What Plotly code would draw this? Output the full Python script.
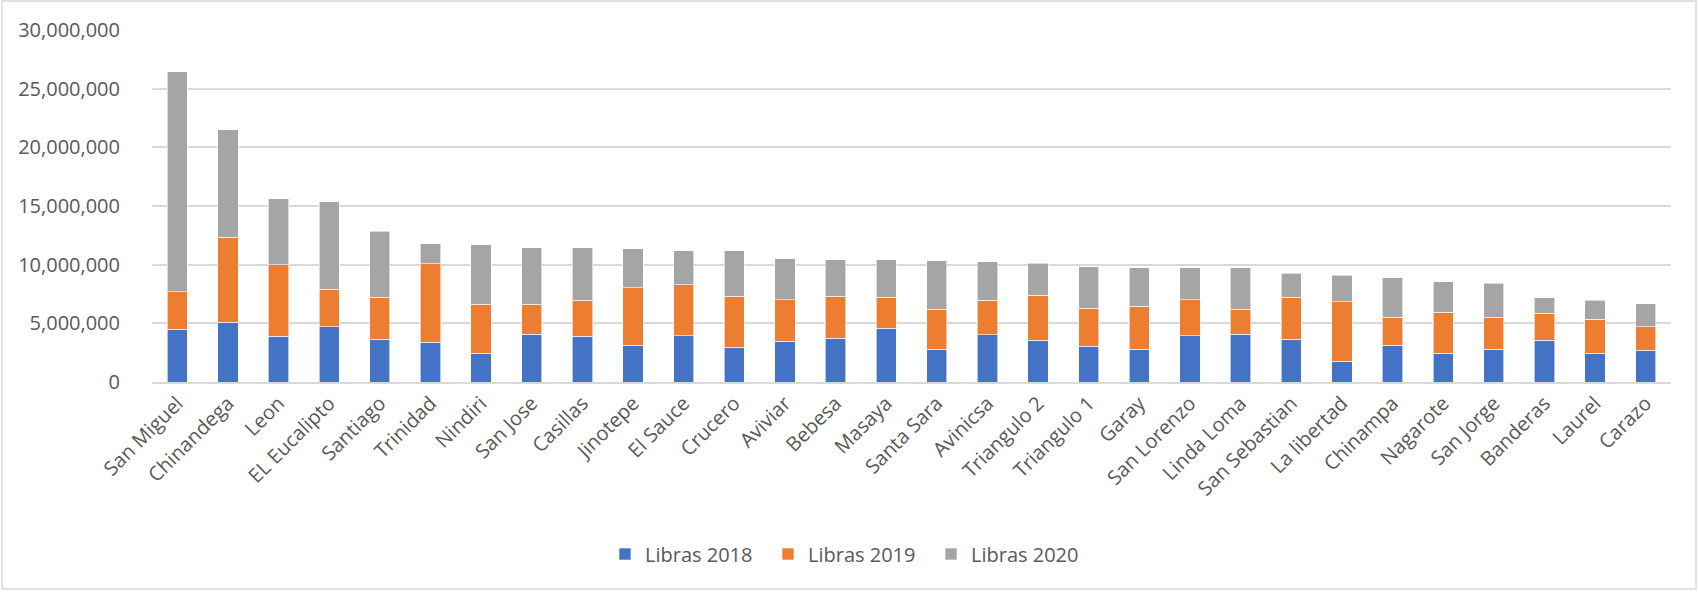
import plotly.graph_objects as go

categories = ["San Miguel", "Chinandega", "Leon", "EL Eucalipto", "Santiago", "Trinidad",
              "Nindiri", "San Jose", "Casillas", "Jinotepe", "El Sauce", "Crucero", "Aviviar",
              "Bebesa", "Masaya", "Santa Sara", "Avinicsa", "Triangulo 2", "Triangulo 1",
              "Garay", "San Lorenzo", "Linda Loma", "San Sebastian", "La libertad", "Chinampa",
              "Nagarote", "San Jorge", "Banderas", "Laurel", "Carazo"]

libras_2018 = [4480000, 5100000, 3880000, 4700000, 3630000, 3400000, 2440000, 4060000, 3890000,
               3150000, 3940000, 2950000, 3460000, 3720000, 4570000, 2780000, 4030000, 3540000,
               3060000, 2780000, 3940000, 4060000, 3630000, 1790000, 3150000, 2470000, 2780000,
               3570000, 2470000, 2690000]
libras_2019 = [3230000, 7240000, 6120000, 3210000, 3600000, 6690000, 4170000, 2580000, 3060000,
               4880000, 4370000, 4370000, 3570000, 3570000, 2660000, 3430000, 2950000, 3860000,
               3210000, 3660000, 3090000, 2150000, 3600000, 5070000, 2350000, 3460000, 2750000,
               2270000, 2860000, 2020000]
libras_2020 = [18750000, 9180000, 5600000, 7460000, 5620000, 1710000, 5070000, 4790000, 4480000,
               3340000, 2890000, 3880000, 3490000, 3120000, 3180000, 4110000, 3260000, 2700000,
               3540000, 3290000, 2700000, 3520000, 2040000, 2240000, 3380000, 2630000, 2890000,
               1360000, 1650000, 1980000]

series = [("Libras 2018", libras_2018, "#4472C4"),
          ("Libras 2019", libras_2019, "#ED7D31"),
          ("Libras 2020", libras_2020, "#A5A5A5")]

FONT = "Open Sans, Liberation Sans, Arial, sans-serif"
TXT = "#595959"

fig = go.Figure()
for name, vals, col in series:
    fig.add_trace(go.Bar(
        x=categories, y=vals, name=name,
        marker=dict(color=col, line=dict(color="white", width=0.6)),
    ))

W, H = 1699, 592
L, R, T, B = 152, 28, 30, 210
pw, ph = W - L - R, H - T - B

def px_x(px):
    return (px - L) / pw

def px_y(py):
    return (H - B - py) / ph

fig.update_layout(
    barmode="stack",
    bargap=0.6,
    width=W, height=H,
    margin=dict(l=L, r=R, t=T, b=B),
    plot_bgcolor="white",
    paper_bgcolor="white",
    font=dict(family=FONT, color=TXT, size=20),
    showlegend=True,
    legend=dict(
        orientation="h",
        xref="container", x=0.5, xanchor="center",
        yref="container", y=(H - 554) / H, yanchor="middle",
        font=dict(size=20, color=TXT),
        traceorder="normal",
        itemwidth=30,
        entrywidth=118,
    ),
    xaxis=dict(
        tickangle=-45,
        tickfont=dict(size=20, color=TXT),
        showgrid=False,
        showline=True, linecolor="#D9D9D9", linewidth=1.5,
        ticks="",
    ),
    yaxis=dict(
        range=[0, 30000000],
        dtick=5000000,
        tickformat=",",
        tickfont=dict(size=20, color=TXT),
        showgrid=True, gridcolor="#D9D9D9", gridwidth=1.5,
        zeroline=False,
        showline=False,
        ticks="",
        ticklabelstandoff=31,
    ),
    shapes=[dict(
        type="rect", xref="paper", yref="paper",
        x0=px_x(2), x1=px_x(1696), y0=px_y(589), y1=px_y(1),
        line=dict(color="#D9D9D9", width=1.5), fillcolor="rgba(0,0,0,0)",
        layer="below",
    )],
)

fig.write_html("out.html", config={"displayModeBar": False},
               post_script="document.body.style.margin='0';")
